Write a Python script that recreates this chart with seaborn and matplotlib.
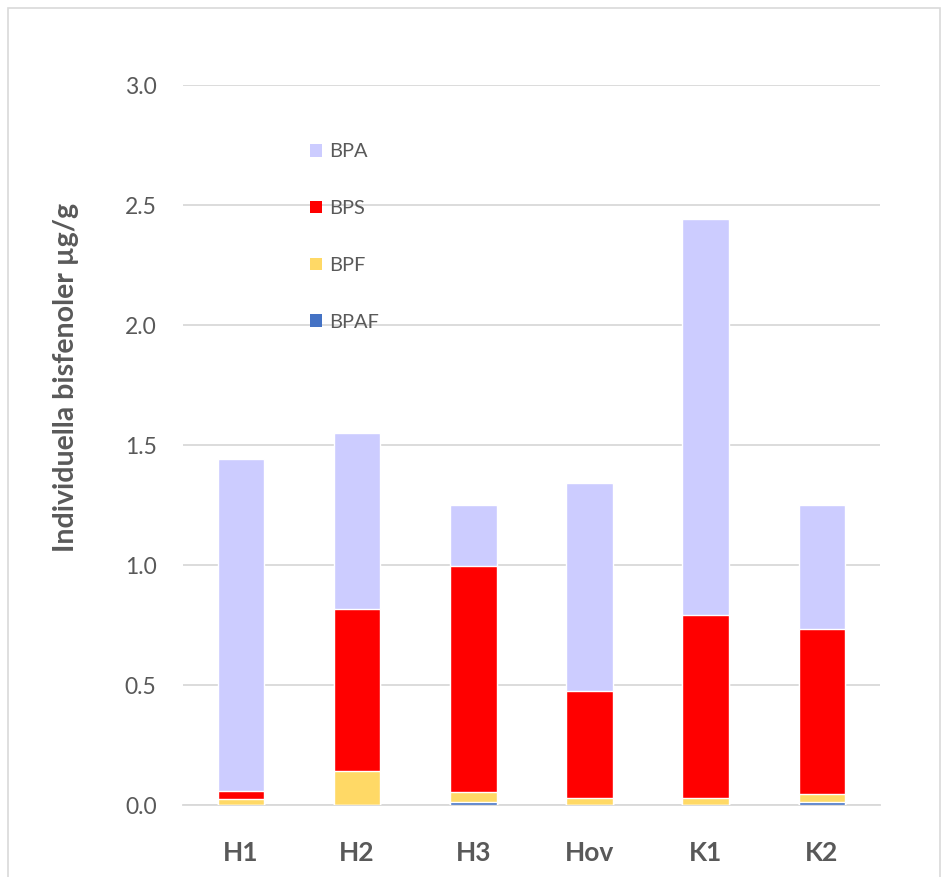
import matplotlib
matplotlib.use("Agg")
import matplotlib.pyplot as plt
from matplotlib.patches import Patch, Rectangle
import numpy as np
import pandas as pd
import seaborn as sns

# Sample sites and measured concentrations (µg/g) of each bisphenol
sites = ["H1", "H2", "H3", "Hov", "K1", "K2"]
bpaf = [0.002, 0.002, 0.012, 0.002, 0.002, 0.012]
bpf = [0.024, 0.141, 0.041, 0.026, 0.026, 0.034]
bps = [0.034, 0.674, 0.943, 0.447, 0.762, 0.687]
bpa = [1.382, 0.733, 0.254, 0.867, 1.652, 0.517]

series_names = ["BPA", "BPS", "BPF", "BPAF"]
series_colors = {"BPA": "#ccccff", "BPS": "#ff0000", "BPF": "#ffd966", "BPAF": "#4472c4"}
yticks = [0.0, 0.5, 1.0, 1.5, 2.0, 2.5, 3.0]

sns.set_theme(style="white")
plt.rcParams["font.family"] = ["Lato", "DejaVu Sans"]

df = pd.DataFrame({"site": sites, "BPAF": bpaf, "BPF": bpf, "BPS": bps, "BPA": bpa})
# cumulative heights so that later (shorter) layers sit in front of earlier ones
df["c_BPAF"] = df["BPAF"]
df["c_BPF"] = df["c_BPAF"] + df["BPF"]
df["c_BPS"] = df["c_BPF"] + df["BPS"]
df["c_BPA"] = df["c_BPS"] + df["BPA"]

fig = plt.figure(figsize=(9.43, 8.77), dpi=100)
ax = fig.add_axes([0.194, 0.082, 0.739, 0.821])

for name in series_names:
    sns.barplot(data=df, x="site", y=f"c_{name}", color=series_colors[name],
                width=0.4, saturation=1, ax=ax, order=sites, zorder=3)

ax.set_ylim(0, 3.0)
ax.set_xlim(-0.5, len(sites) - 0.5)
ax.set_yticks(yticks)
ax.set_yticklabels([f"{t:.1f}" for t in yticks], fontsize=16.5, color="#595959")
ax.tick_params(axis="y", length=0, pad=19)
ax.tick_params(axis="x", length=0, pad=26, labelsize=19, labelcolor="#595959")
for lbl in ax.get_xticklabels():
    lbl.set_fontweight("bold")
ax.grid(axis="y", color="#d9d9d9", linewidth=1.3, zorder=0)
ax.set_axisbelow(True)
for side in ["top", "right", "left"]:
    ax.spines[side].set_visible(False)
ax.spines["bottom"].set_color("#d9d9d9")
ax.spines["bottom"].set_linewidth(1.3)

ax.set_xlabel("")
ax.set_ylabel("Individuella bisfenoler µg/g", fontsize=20.5, fontweight="bold",
              color="#595959")
ax.yaxis.set_label_coords((66 - 183) / 697, (805 - 377) / 720)
ax.yaxis.label.set_verticalalignment("center")

handles = [Patch(facecolor=series_colors[n], edgecolor="none") for n in series_names]
ax.legend(handles, series_names, loc="upper left", bbox_to_anchor=(0.183, 0.919),
          frameon=False, fontsize=14.4, labelcolor="#595959", labelspacing=1.99,
          handlelength=0.6, handleheight=0.6, handletextpad=0.35,
          borderpad=0, borderaxespad=0)

# thin frame around the whole chart
fig.patches.append(Rectangle((8 / 943, -0.01), 932 / 943, 1 - 8 / 877 + 0.01,
                             transform=fig.transFigure, fill=False,
                             edgecolor="#d9d9d9", linewidth=1.2))

fig.savefig("out.png", dpi=100, facecolor="white")
